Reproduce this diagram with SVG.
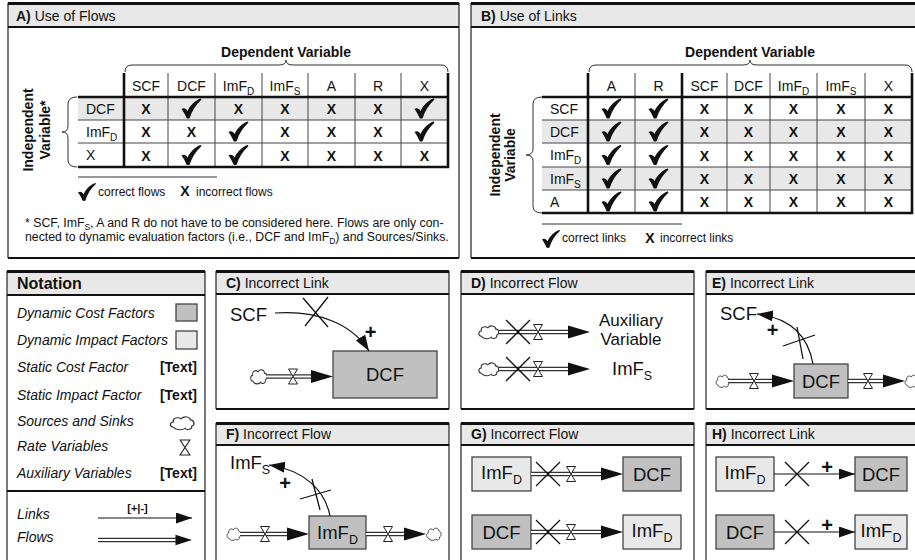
<svg xmlns="http://www.w3.org/2000/svg" xmlns:xlink="http://www.w3.org/1999/xlink" width="915" height="560" viewBox="0 0 915 560">
<style>
text{font-family:"Liberation Sans",Arial,Helvetica,sans-serif;fill:#111}
.ttl{font-size:14px}
.b{font-weight:bold}
.cell{font-size:14px;text-anchor:middle}
.lab{font-size:14px}
.mk{font-size:14px;font-weight:bold;text-anchor:middle}
.leg{font-size:12px}
.foot{font-size:12.3px}
.vt{font-size:14px;font-weight:bold;text-anchor:middle}
.band{fill:#e8e8e8}
.side{stroke:#333;stroke-width:1.3}
.topl{stroke:#111;stroke-width:3}
.hl{stroke:#111;stroke-width:2}
.thk{stroke:#111;stroke-width:2.6}
.thn{stroke:#444;stroke-width:1}
.gray{fill:#e8e8e8}
.nt{font-size:14px;font-style:italic}
.dark{fill:#c0c0c0;stroke:#444;stroke-width:1.3}
.light{fill:#e8e8e8;stroke:#444;stroke-width:1.3}
.big{font-size:18.5px}
.mid{text-anchor:middle}
.plus{font-size:20px;font-weight:bold;text-anchor:middle}
.link{fill:none;stroke:#111;stroke-width:1.2}
.cross{stroke:#111;stroke-width:1.3}
.po{stroke:#333;stroke-width:4.6}
.pi{stroke:#fff;stroke-width:1.8}
.brace{fill:none;stroke:#333;stroke-width:1}
.cloud{fill:#fff;stroke:#333;stroke-width:1}
.valve{fill:#fff;stroke:#222;stroke-width:1}
</style>
<defs>
<symbol id="chk" viewBox="0 0 20 20" overflow="visible">
<path d="M0,10.5 C2,9 4.5,9.5 6,12.5 C9,6.5 13.5,2 19,0 C19.8,0 20.2,0.8 19.6,1.5 C14.5,6 10.5,12 8.2,19.5 C7.6,20.2 5.6,20.2 5,19.5 C3.6,16 2,13 0,10.5 Z" fill="#111"/>
</symbol>
<path id="cld" d="M-7,4 C-10,4 -10,-1 -7,-1 C-8,-5 -3,-6 -1,-4 C1,-7 6,-6 6,-3 C9,-3 10,2 7,3 C8,6 3,7 2,5 C0,7 -5,7 -7,4 Z"/>
<path id="vlv" d="M-4.5,-7.5 L4.5,-7.5 L0,0 Z M-4.5,7.5 L4.5,7.5 L0,0 Z"/>
<path id="fh" d="M0,0 L-22,-6.5 L-22,6.5 Z" fill="#111"/>
<marker id="la" markerUnits="userSpaceOnUse" markerWidth="18" markerHeight="12" refX="16" refY="5.5" orient="auto">
<path d="M0,0 L16,5.5 L0,11 Z" fill="#111"/>
</marker>
</defs>

<!-- Panel A -->
<g id="panelA">
<rect x="8" y="3" width="451" height="24" class="band"/>
<line x1="8" y1="3" x2="8" y2="258" class="side"/>
<line x1="459" y1="3" x2="459" y2="258" class="side"/>
<line x1="8" y1="3.5" x2="459" y2="3.5" class="topl"/>
<line x1="8" y1="27" x2="459" y2="27" class="hl"/>
<line x1="8" y1="258" x2="459" y2="258" class="hl"/>
<text x="16" y="21" class="ttl"><tspan class="b">A)</tspan> Use of Flows</text>
<text x="286" y="57" class="ttl b mid">Dependent Variable</text>
<path class="brace" d="M125,72 Q125,65 132,65 L279,65 Q286,65 286,60 Q286,65 293,65 L441,65 Q448,65 448,72"/>
<path class="brace" d="M77,97 Q68,97 68,104 L68,126 Q68,132 62,132 Q68,132 68,138 L68,160 Q68,167 77,167"/>
<text transform="translate(33,130) rotate(-90)" class="vt">Independent</text>
<text transform="translate(50,130) rotate(-90)" class="vt">Variable*</text>
<rect x="78" y="97" width="370" height="23" class="gray"/>
<g class="thn">
<line x1="168" y1="73" x2="168" y2="167"/><line x1="215" y1="73" x2="215" y2="167"/>
<line x1="262" y1="73" x2="262" y2="167"/><line x1="308" y1="73" x2="308" y2="167"/>
<line x1="355" y1="73" x2="355" y2="167"/><line x1="401" y1="73" x2="401" y2="167"/>
<line x1="78" y1="120" x2="448" y2="120"/><line x1="78" y1="143" x2="448" y2="143"/>
</g>
<g class="thk">
<line x1="124" y1="73" x2="124" y2="168"/><line x1="448" y1="73" x2="448" y2="168"/>
<line x1="78" y1="97" x2="449" y2="97"/><line x1="78" y1="167" x2="449" y2="167"/>
</g>
<text y="91" class="cell" x="146">SCF</text>
<text y="91" class="cell" x="191.5">DCF</text>
<text y="91" class="cell" x="238.5">ImF<tspan font-size="10" dy="4">D</tspan></text>
<text y="91" class="cell" x="285">ImF<tspan font-size="10" dy="4">S</tspan></text>
<text y="91" class="cell" x="331.5">A</text>
<text y="91" class="cell" x="378">R</text>
<text y="91" class="cell" x="424.5">X</text>
<text x="86" y="113.5" class="lab">DCF</text>
<text x="86" y="136.5" class="lab">ImF<tspan font-size="10" dy="4">D</tspan></text>
<text x="86" y="160" class="lab">X</text>
<g class="mk">
<text x="146" y="114">X</text><text x="238.5" y="114">X</text><text x="285" y="114">X</text><text x="331.5" y="114">X</text><text x="378" y="114">X</text>
<text x="146" y="137">X</text><text x="191.5" y="137">X</text><text x="285" y="137">X</text><text x="331.5" y="137">X</text><text x="378" y="137">X</text>
<text x="146" y="160.5">X</text><text x="285" y="160.5">X</text><text x="331.5" y="160.5">X</text><text x="378" y="160.5">X</text><text x="424.5" y="160.5">X</text>
</g>
<use xlink:href="#chk" x="181.5" y="98.5" width="20" height="20"/>
<use xlink:href="#chk" x="414.5" y="98.5" width="20" height="20"/>
<use xlink:href="#chk" x="228.5" y="121.5" width="20" height="20"/>
<use xlink:href="#chk" x="414.5" y="121.5" width="20" height="20"/>
<use xlink:href="#chk" x="181.5" y="145" width="20" height="20"/>
<use xlink:href="#chk" x="228.5" y="145" width="20" height="20"/>
<line x1="78" y1="177" x2="217" y2="177" stroke="#333" stroke-width="1"/>
<use xlink:href="#chk" x="78" y="183" width="18" height="18"/>
<text x="98" y="195.5" class="leg">correct flows</text>
<text x="185" y="196" class="mk" font-size="13">X</text>
<text x="196" y="195.5" class="leg">incorrect flows</text>
<text x="25" y="226.5" class="foot">* SCF, ImF<tspan font-size="8.5" dy="3">S</tspan><tspan dy="-3">, A and R do not have to be considered here. Flows are only con-</tspan></text>
<text x="25" y="241" class="foot">nected to dynamic evaluation factors (i.e., DCF and ImF<tspan font-size="8.5" dy="3">D</tspan><tspan dy="-3">) and Sources/Sinks.</tspan></text>
</g>

<!-- Panel B -->
<g id="panelB">
<rect x="471" y="3" width="450" height="24" class="band"/>
<line x1="471" y1="3" x2="471" y2="258" class="side"/>
<line x1="471" y1="3.5" x2="921" y2="3.5" class="topl"/>
<line x1="471" y1="27" x2="921" y2="27" class="hl"/>
<line x1="471" y1="258" x2="921" y2="258" class="hl"/>
<text x="481" y="21" class="ttl"><tspan class="b">B)</tspan> Use of Links</text>
<text x="750" y="57" class="ttl b mid">Dependent Variable</text>
<path class="brace" d="M589,72 Q589,65 596,65 L743,65 Q750,65 750,60 Q750,65 757,65 L905,65 Q912,65 912,72"/>
<path class="brace" d="M542,97 Q533,97 533,104 L533,149 Q533,155 526,155 Q533,155 533,161 L533,206 Q533,213 542,213"/>
<text transform="translate(500,155) rotate(-90)" class="vt">Independent</text>
<text transform="translate(515,155) rotate(-90)" class="vt">Variable</text>
<rect x="542" y="120" width="370" height="23" class="gray"/>
<rect x="542" y="167" width="370" height="23" class="gray"/>
<g class="thn">
<line x1="635" y1="73" x2="635" y2="213"/><line x1="727" y1="73" x2="727" y2="213"/>
<line x1="770" y1="73" x2="770" y2="213"/><line x1="817" y1="73" x2="817" y2="213"/>
<line x1="865" y1="73" x2="865" y2="213"/>
<line x1="542" y1="120" x2="912" y2="120"/><line x1="542" y1="143" x2="912" y2="143"/>
<line x1="542" y1="167" x2="912" y2="167"/><line x1="542" y1="190" x2="912" y2="190"/>
</g>
<g class="thk">
<line x1="588" y1="73" x2="588" y2="214"/><line x1="682" y1="73" x2="682" y2="214"/><line x1="912" y1="73" x2="912" y2="214"/>
<line x1="542" y1="97" x2="913" y2="97"/><line x1="542" y1="213" x2="913" y2="213"/>
</g>
<text y="91" class="cell" x="611.5">A</text>
<text y="91" class="cell" x="658.5">R</text>
<text y="91" class="cell" x="704.5">SCF</text>
<text y="91" class="cell" x="748.5">DCF</text>
<text y="91" class="cell" x="793.5">ImF<tspan font-size="10" dy="4">D</tspan></text>
<text y="91" class="cell" x="841">ImF<tspan font-size="10" dy="4">S</tspan></text>
<text y="91" class="cell" x="888.5">X</text>
<text x="550" y="113.5" class="lab">SCF</text>
<text x="550" y="136.5" class="lab">DCF</text>
<text x="550" y="160" class="lab">ImF<tspan font-size="10" dy="4">D</tspan></text>
<text x="550" y="183.5" class="lab">ImF<tspan font-size="10" dy="4">S</tspan></text>
<text x="550" y="206.5" class="lab">A</text>
<g class="mk">
<text x="704.5" y="114">X</text><text x="748.5" y="114">X</text><text x="793.5" y="114">X</text><text x="841" y="114">X</text><text x="888.5" y="114">X</text>
<text x="704.5" y="137">X</text><text x="748.5" y="137">X</text><text x="793.5" y="137">X</text><text x="841" y="137">X</text><text x="888.5" y="137">X</text>
<text x="704.5" y="160.5">X</text><text x="748.5" y="160.5">X</text><text x="793.5" y="160.5">X</text><text x="841" y="160.5">X</text><text x="888.5" y="160.5">X</text>
<text x="704.5" y="184">X</text><text x="748.5" y="184">X</text><text x="793.5" y="184">X</text><text x="841" y="184">X</text><text x="888.5" y="184">X</text>
<text x="704.5" y="207">X</text><text x="748.5" y="207">X</text><text x="793.5" y="207">X</text><text x="841" y="207">X</text><text x="888.5" y="207">X</text>
</g>
<use xlink:href="#chk" x="601.5" y="98.5" width="20" height="20"/><use xlink:href="#chk" x="648.5" y="98.5" width="20" height="20"/>
<use xlink:href="#chk" x="601.5" y="121.5" width="20" height="20"/><use xlink:href="#chk" x="648.5" y="121.5" width="20" height="20"/>
<use xlink:href="#chk" x="601.5" y="145" width="20" height="20"/><use xlink:href="#chk" x="648.5" y="145" width="20" height="20"/>
<use xlink:href="#chk" x="601.5" y="168.5" width="20" height="20"/><use xlink:href="#chk" x="648.5" y="168.5" width="20" height="20"/>
<use xlink:href="#chk" x="601.5" y="191.5" width="20" height="20"/><use xlink:href="#chk" x="648.5" y="191.5" width="20" height="20"/>
<line x1="542" y1="224" x2="682" y2="224" stroke="#333" stroke-width="1"/>
<use xlink:href="#chk" x="542" y="230" width="18" height="18"/>
<text x="562" y="242" class="leg">correct links</text>
<text x="650" y="242.5" class="mk" font-size="13">X</text>
<text x="660" y="242" class="leg">incorrect links</text>
</g>

<!-- Notation -->
<g id="notation">
<rect x="7" y="271" width="198" height="24" class="band"/>
<line x1="7" y1="271" x2="7" y2="561" class="side"/>
<line x1="205" y1="271" x2="205" y2="561" class="side"/>
<line x1="7" y1="271.5" x2="205" y2="271.5" class="topl"/>
<line x1="7" y1="295" x2="205" y2="295" class="hl"/>
<line x1="7" y1="491" x2="205" y2="491" class="hl" stroke-width="1.6"/>
<text x="17" y="289" font-size="16" class="b">Notation</text>
<text x="17" y="317.5" class="nt">Dynamic Cost Factors</text>
<rect x="176" y="304" width="21" height="17" class="dark"/>
<text x="17" y="345" class="nt">Dynamic Impact Factors</text>
<rect x="176" y="331" width="21" height="18" class="light"/>
<text x="17" y="371.5" class="nt">Static Cost Factor</text>
<text x="197" y="371.5" class="lab b" text-anchor="end">[Text]</text>
<text x="17" y="399.5" class="nt">Static Impact Factor</text>
<text x="197" y="399.5" class="lab b" text-anchor="end">[Text]</text>
<text x="17" y="425.5" class="nt">Sources and Sinks</text>
<use xlink:href="#cld" class="cloud" transform="translate(182.5,423) scale(1.3,1.05)"/>
<text x="17" y="451" class="nt">Rate Variables</text>
<use xlink:href="#vlv" class="valve" transform="translate(185,447.5) scale(1.1,1)"/>
<text x="17" y="477.5" class="nt">Auxiliary Variables</text>
<text x="197" y="477.5" class="lab b" text-anchor="end">[Text]</text>
<text x="17" y="519" class="nt">Links</text>
<text x="137.5" y="511.5" font-size="11" class="b mid">[+|-]</text>
<line x1="98" y1="518" x2="192" y2="518" class="link" marker-end="url(#la)"/>
<text x="17" y="542" class="nt">Flows</text>
<line x1="98" y1="540" x2="178" y2="540" class="po"/>
<line x1="98" y1="540" x2="178" y2="540" class="pi"/>
<use xlink:href="#fh" transform="translate(192,540) scale(0.75,0.8)"/>
</g>

<!-- Panel frames C-H -->
<g id="frames">
<rect x="216" y="271" width="233" height="23" class="band"/>
<rect x="461" y="271" width="233" height="23" class="band"/>
<rect x="706" y="271" width="215" height="23" class="band"/>
<rect x="216" y="423" width="233" height="22" class="band"/>
<rect x="461" y="423" width="233" height="22" class="band"/>
<rect x="706" y="423" width="215" height="22" class="band"/>
<g class="side">
<line x1="216" y1="271" x2="216" y2="409"/><line x1="449" y1="271" x2="449" y2="409"/>
<line x1="461" y1="271" x2="461" y2="409"/><line x1="694" y1="271" x2="694" y2="409"/>
<line x1="706" y1="271" x2="706" y2="409"/>
<line x1="216" y1="423" x2="216" y2="561"/><line x1="449" y1="423" x2="449" y2="561"/>
<line x1="461" y1="423" x2="461" y2="561"/><line x1="694" y1="423" x2="694" y2="561"/>
<line x1="706" y1="423" x2="706" y2="561"/>
</g>
<g class="topl">
<line x1="216" y1="271.5" x2="449" y2="271.5"/><line x1="461" y1="271.5" x2="694" y2="271.5"/><line x1="706" y1="271.5" x2="921" y2="271.5"/>
<line x1="216" y1="423.5" x2="449" y2="423.5"/><line x1="461" y1="423.5" x2="694" y2="423.5"/><line x1="706" y1="423.5" x2="921" y2="423.5"/>
</g>
<g class="hl">
<line x1="216" y1="294" x2="449" y2="294"/><line x1="461" y1="294" x2="694" y2="294"/><line x1="706" y1="294" x2="921" y2="294"/>
<line x1="216" y1="409" x2="449" y2="409"/><line x1="461" y1="409" x2="694" y2="409"/><line x1="706" y1="409" x2="921" y2="409"/>
<line x1="216" y1="445" x2="449" y2="445"/><line x1="461" y1="445" x2="694" y2="445"/><line x1="706" y1="445" x2="921" y2="445"/>
</g>
<text x="226" y="288" class="ttl"><tspan class="b">C)</tspan> Incorrect Link</text>
<text x="471" y="288" class="ttl"><tspan class="b">D)</tspan> Incorrect Flow</text>
<text x="712" y="288" class="ttl"><tspan class="b">E)</tspan> Incorrect Link</text>
<text x="226" y="438.5" class="ttl"><tspan class="b">F)</tspan> Incorrect Flow</text>
<text x="471" y="438.5" class="ttl"><tspan class="b">G)</tspan> Incorrect Flow</text>
<text x="712" y="438.5" class="ttl"><tspan class="b">H)</tspan> Incorrect Link</text>
</g>

<!-- Nodes -->
<g id="nodeC_SCF"><text x="230" y="321" class="big">SCF</text></g>
<g id="nodeC_DCF"><rect x="333" y="351" width="104" height="47" class="dark"/><text x="385" y="381" class="big mid">DCF</text></g>
<g id="nodeC_src"><use xlink:href="#cld" class="cloud" transform="translate(259,376.5) scale(0.9,1.15)"/></g>

<g id="nodeD_src1"><use xlink:href="#cld" class="cloud" transform="translate(489,332) scale(1.1,1.05)"/></g>
<g id="nodeD_aux"><text x="631" y="325.5" font-size="17" class="mid">Auxiliary</text><text x="631" y="344.5" font-size="17" class="mid">Variable</text></g>
<g id="nodeD_src2"><use xlink:href="#cld" class="cloud" transform="translate(489,369) scale(1.1,1.05)"/></g>
<g id="nodeD_imfs"><text x="612" y="375" class="big">ImF<tspan font-size="12.5" dy="5">S</tspan></text></g>

<g id="nodeE_SCF"><text x="720" y="320" class="big">SCF</text></g>
<g id="nodeE_DCF"><rect x="794" y="364" width="54" height="34" class="dark"/><text x="821" y="387.5" class="big mid">DCF</text></g>
<g id="nodeE_src"><use xlink:href="#cld" class="cloud" transform="translate(723,381) scale(0.75,1)"/></g>
<g id="nodeE_sink"><use xlink:href="#cld" class="cloud" transform="translate(912,381) scale(0.75,1)"/></g>

<g id="nodeF_ImFS"><text x="230" y="469" class="big">ImF<tspan font-size="12.5" dy="5">S</tspan></text></g>
<g id="nodeF_ImFD"><rect x="309" y="516" width="57" height="33" class="dark"/><text x="337.5" y="539" class="big mid">ImF<tspan font-size="12.5" dy="5">D</tspan></text></g>
<g id="nodeF_src"><use xlink:href="#cld" class="cloud" transform="translate(234,534) scale(0.75,1)"/></g>
<g id="nodeF_sink"><use xlink:href="#cld" class="cloud" transform="translate(434,534) scale(0.8,1)"/></g>

<g id="nodeG_ImFD1"><rect x="472" y="457" width="59" height="34" class="light"/><text x="501.5" y="479" class="big mid">ImF<tspan font-size="12.5" dy="5">D</tspan></text></g>
<g id="nodeG_DCF1"><rect x="623" y="457" width="58" height="34" class="dark"/><text x="652" y="480.5" class="big mid">DCF</text></g>
<g id="nodeG_DCF2"><rect x="472" y="515" width="59" height="34" class="dark"/><text x="501.5" y="538.5" class="big mid">DCF</text></g>
<g id="nodeG_ImFD2"><rect x="623" y="515" width="58" height="34" class="light"/><text x="652" y="537" class="big mid">ImF<tspan font-size="12.5" dy="5">D</tspan></text></g>

<g id="nodeH_ImFD1"><rect x="716" y="457" width="58" height="34" class="light"/><text x="745" y="479" class="big mid">ImF<tspan font-size="12.5" dy="5">D</tspan></text></g>
<g id="nodeH_DCF1"><rect x="855" y="457" width="52" height="34" class="dark"/><text x="881" y="480.5" class="big mid">DCF</text></g>
<g id="nodeH_DCF2"><rect x="716" y="515" width="58" height="34" class="dark"/><text x="745" y="538.5" class="big mid">DCF</text></g>
<g id="nodeH_ImFD2"><rect x="855" y="515" width="52" height="34" class="light"/><text x="881" y="537" class="big mid">ImF<tspan font-size="12.5" dy="5">D</tspan></text></g>

<!-- Connectors -->
<g id="connectors">
<!-- C -->
<path d="M275,313 C318,310 352,324 369,351" class="link" marker-end="url(#la)"/>
<line x1="303" y1="298" x2="328" y2="327" class="cross"/><line x1="328" y1="297" x2="305" y2="326" class="cross"/>
<text x="370.5" y="338.7" class="plus">+</text>
<line x1="266" y1="376.5" x2="313" y2="376.5" class="po"/><line x1="266" y1="376.5" x2="313" y2="376.5" class="pi"/>
<use xlink:href="#fh" x="333" y="376.5"/>
<use xlink:href="#vlv" class="valve" x="293" y="376.5"/>
<!-- D -->
<line x1="499" y1="332" x2="568" y2="332" class="po"/><line x1="499" y1="332" x2="568" y2="332" class="pi"/>
<use xlink:href="#fh" x="590" y="332"/>
<use xlink:href="#vlv" class="valve" x="538" y="332"/>
<line x1="506" y1="320" x2="530" y2="344" class="cross"/><line x1="530" y1="320" x2="506" y2="344" class="cross"/>
<line x1="499" y1="369" x2="568" y2="369" class="po"/><line x1="499" y1="369" x2="568" y2="369" class="pi"/>
<use xlink:href="#fh" x="590" y="369"/>
<use xlink:href="#vlv" class="valve" x="538" y="369"/>
<line x1="506" y1="357" x2="530" y2="381" class="cross"/><line x1="530" y1="357" x2="506" y2="381" class="cross"/>
<!-- E -->
<path d="M813,364 C808,336 790,318 757,314" class="link" marker-end="url(#la)"/>
<line x1="783" y1="346" x2="815" y2="335" class="cross"/><line x1="797" y1="327" x2="803" y2="359" class="cross"/>
<text x="772.5" y="337.2" class="plus">+</text>
<line x1="728" y1="381" x2="774" y2="381" class="po"/><line x1="728" y1="381" x2="774" y2="381" class="pi"/>
<use xlink:href="#fh" x="794" y="381"/>
<use xlink:href="#vlv" class="valve" x="754" y="381"/>
<line x1="848" y1="381" x2="885" y2="381" class="po"/><line x1="848" y1="381" x2="885" y2="381" class="pi"/>
<use xlink:href="#fh" x="905" y="381"/>
<use xlink:href="#vlv" class="valve" x="868" y="381"/>
<!-- F -->
<path d="M330,516 C325,490 304,470 269,465" class="link" marker-end="url(#la)"/>
<line x1="300" y1="499" x2="331" y2="490" class="cross"/><line x1="312" y1="479" x2="320" y2="510" class="cross"/>
<text x="285" y="489.7" class="plus">+</text>
<line x1="240" y1="534" x2="289" y2="534" class="po"/><line x1="240" y1="534" x2="289" y2="534" class="pi"/>
<use xlink:href="#fh" x="309" y="534"/>
<use xlink:href="#vlv" class="valve" x="265" y="534"/>
<line x1="366" y1="534" x2="406" y2="534" class="po"/><line x1="366" y1="534" x2="406" y2="534" class="pi"/>
<use xlink:href="#fh" x="426" y="534"/>
<use xlink:href="#vlv" class="valve" x="388" y="534"/>
<!-- G -->
<line x1="531" y1="474" x2="601" y2="474" class="po"/><line x1="531" y1="474" x2="601" y2="474" class="pi"/>
<use xlink:href="#fh" x="623" y="474"/>
<use xlink:href="#vlv" class="valve" x="571" y="474"/>
<line x1="536" y1="462" x2="560" y2="486" class="cross"/><line x1="560" y1="462" x2="536" y2="486" class="cross"/>
<line x1="531" y1="532" x2="601" y2="532" class="po"/><line x1="531" y1="532" x2="601" y2="532" class="pi"/>
<use xlink:href="#fh" x="623" y="532"/>
<use xlink:href="#vlv" class="valve" x="571" y="532"/>
<line x1="536" y1="520" x2="560" y2="544" class="cross"/><line x1="560" y1="520" x2="536" y2="544" class="cross"/>
<!-- H -->
<line x1="774" y1="474" x2="855" y2="474" class="link" marker-end="url(#la)"/>
<line x1="785" y1="462" x2="809" y2="486" class="cross"/><line x1="809" y1="462" x2="785" y2="486" class="cross"/>
<text x="827" y="473.7" class="plus">+</text>
<line x1="774" y1="532" x2="855" y2="532" class="link" marker-end="url(#la)"/>
<line x1="785" y1="520" x2="809" y2="544" class="cross"/><line x1="809" y1="520" x2="785" y2="544" class="cross"/>
<text x="827" y="531.7" class="plus">+</text>
</g>
</svg>
